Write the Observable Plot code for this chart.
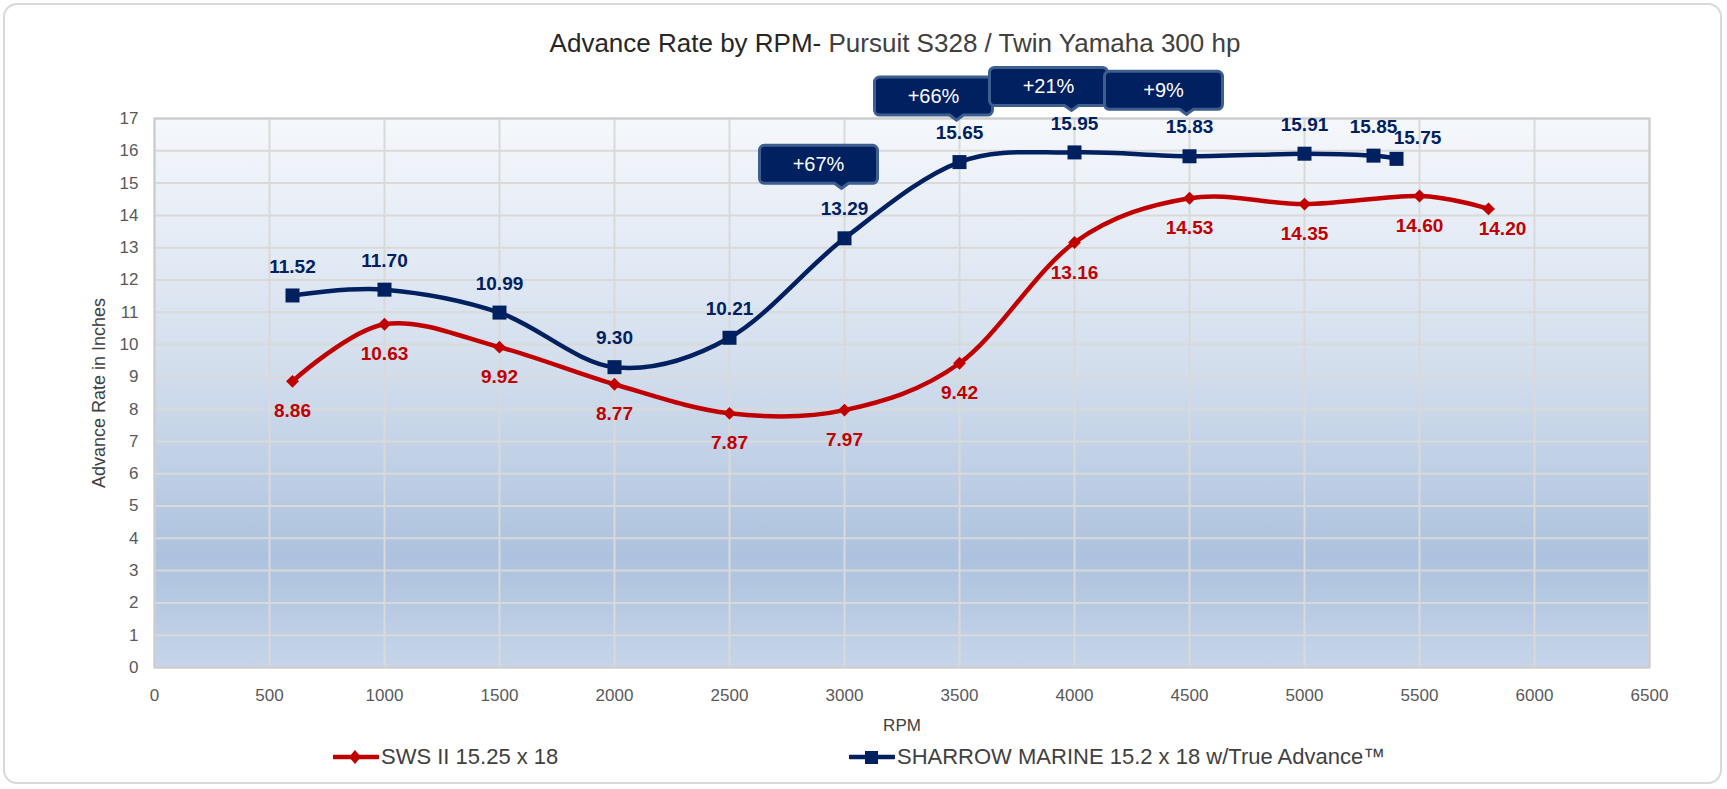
<!DOCTYPE html>
<html>
<head>
<meta charset="utf-8">
<script src="https://cdn.jsdelivr.net/npm/d3@7"></script>
<script src="https://cdn.jsdelivr.net/npm/@observablehq/plot@0.6"></script>
<style>
  body { margin: 0; background: #fff; }
  #wrap { position: relative; width: 1727px; height: 789px; overflow: hidden; font-family: "Liberation Sans", Arial, sans-serif; }
  #border { position: absolute; left: 3px; top: 3px; width: 1719px; height: 781px; border: 2px solid #d9d9d9; border-radius: 14px; box-sizing: border-box; }
  #title { position: absolute; left: 895px; top: 27px; transform: translateX(-50%); white-space: nowrap; font-size: 26px; line-height: 32px; color: #404040; }
  #title .a { color: #262626; }
  #chart { position: absolute; left: 0; top: 0; }
  .leg { position: absolute; top: 744px; height: 26px; display: flex; align-items: center; font-size: 22px; color: #404040; white-space: nowrap; }
  .leg svg { display: block; margin-right: 2px; }
</style>
</head>
<body>
<div id="wrap">
  <div id="border"></div>
  <div id="chart"></div>
  <div id="title"><span class="a">Advance Rate by RPM-</span> Pursuit S328 / Twin Yamaha 300 hp</div>
  <div class="leg" id="leg1" style="left:333px"></div>
  <div class="leg" id="leg2" style="left:849px"></div>
</div>
<script>
// ---- data ----
const rpmSWS = [600, 1000, 1500, 2000, 2500, 3000, 3500, 4000, 4500, 5000, 5500, 5800];
const advSWS = [8.86, 10.63, 9.92, 8.77, 7.87, 7.97, 9.42, 13.16, 14.53, 14.35, 14.60, 14.20];
const rpmSharrow = [600, 1000, 1500, 2000, 2500, 3000, 3500, 4000, 4500, 5000, 5300, 5400];
const advSharrow = [11.52, 11.70, 10.99, 9.30, 10.21, 13.29, 15.65, 15.95, 15.83, 15.91, 15.85, 15.75];
const calloutRpm = [3000, 3500, 4000, 4500];
const calloutText = ["+67%", "+66%", "+21%", "+9%"];
const xTicks = [0, 500, 1000, 1500, 2000, 2500, 3000, 3500, 4000, 4500, 5000, 5500, 6000, 6500];
const yTicks = [0, 1, 2, 3, 4, 5, 6, 7, 8, 9, 10, 11, 12, 13, 14, 15, 16, 17];
const seriesNames = ["SWS II 15.25 x 18", "SHARROW MARINE 15.2 x 18 w/True Advance™"];

const RED = "#c00000", NAVY = "#002060";

const sws = rpmSWS.map((r, i) => ({rpm: r, v: advSWS[i], last: i === rpmSWS.length - 1}));
const sharrow = rpmSharrow.map((r, i) => ({rpm: r, v: advSharrow[i], last: i === rpmSharrow.length - 1}));
const callouts = calloutRpm.map((r, i) => ({rpm: r, v: advSharrow[rpmSharrow.indexOf(r)], text: calloutText[i], first: i === 0}));

// callout bubble symbol: anchored at the data point, tip above it
function calloutSymbol(off) {
  return {
    draw(ctx) {
      const L = -85, R = 33, tx = -3, tip = -off, B = tip - 5, T = B - 38, r = 5, pw = 7;
      ctx.moveTo(L + r, T);
      ctx.lineTo(R - r, T);
      ctx.arcTo(R, T, R, T + r, r);
      ctx.lineTo(R, B - r);
      ctx.arcTo(R, B, R - r, B, r);
      ctx.lineTo(tx + pw, B);
      ctx.lineTo(tx, tip);
      ctx.lineTo(tx - pw, B);
      ctx.lineTo(L + r, B);
      ctx.arcTo(L, B, L, B - r, r);
      ctx.lineTo(L, T + r);
      ctx.arcTo(L, T, L + r, T, r);
      ctx.closePath();
    }
  };
}

const labelFont = {fontFamily: "Liberation Sans", fontWeight: "bold", fontSize: 19};

const svg = Plot.plot({
  width: 1727,
  height: 789,
  marginLeft: 154,
  marginRight: 78,
  marginTop: 118,
  marginBottom: 122,
  style: {fontFamily: "Liberation Sans, Arial, sans-serif", background: "transparent", overflow: "visible"},
  x: {domain: [0, 6500]},
  y: {domain: [0, 17]},
  marks: [
    Plot.frame({fill: "url(#plotBg)", stroke: "none"}),
    Plot.gridX({ticks: xTicks, stroke: "#d9d9d9", strokeOpacity: 1, strokeWidth: 2}),
    Plot.gridY({ticks: yTicks, stroke: "#d9d9d9", strokeOpacity: 1, strokeWidth: 2}),
    Plot.frame({stroke: "#cccccc", strokeWidth: 2}),
    Plot.axisX({ticks: xTicks, tickFormat: d => String(d), tickSize: 0, tickPadding: 21, fontSize: 17, color: "#595959", label: null}),
    Plot.axisY({ticks: yTicks, tickFormat: d => String(d), tickSize: 0, tickPadding: 16, fontSize: 17, color: "#595959", label: null}),
    Plot.text(["RPM"], {frameAnchor: "bottom", dy: 63, fontSize: 17, fill: "#404040"}),
    Plot.text(["Advance Rate in Inches"], {frameAnchor: "left", textAnchor: "middle", dx: -55, rotate: -90, fontSize: 18, fill: "#404040"}),
    // SWS II
    Plot.line(sws, {x: "rpm", y: "v", stroke: RED, strokeWidth: 4.5, curve: "cardinal"}),
    Plot.dot(sws, {x: "rpm", y: "v", symbol: "diamond2", r: 5.8, fill: RED}),
    Plot.text(sws.filter(d => !d.last), {x: "rpm", y: "v", text: d => d.v.toFixed(2), dy: 30, fill: RED, ...labelFont}),
    Plot.text(sws.filter(d => d.last), {x: "rpm", y: "v", text: d => d.v.toFixed(2), dy: 20, dx: 14, fill: RED, ...labelFont}),
    // Sharrow
    Plot.line(sharrow, {x: "rpm", y: "v", stroke: NAVY, strokeWidth: 4.5, curve: "cardinal"}),
    Plot.dot(sharrow, {x: "rpm", y: "v", symbol: "square", r: 7.9, fill: NAVY}),
    Plot.text(sharrow.filter(d => !d.last), {x: "rpm", y: "v", text: d => d.v.toFixed(2), dy: -29, fill: NAVY, ...labelFont}),
    Plot.text(sharrow.filter(d => d.last), {x: "rpm", y: "v", text: d => d.v.toFixed(2), dy: -21, dx: 21, fill: NAVY, ...labelFont}),
    // callouts
    Plot.dot(callouts.filter(d => d.first), {x: "rpm", y: "v", symbol: calloutSymbol(50), fill: NAVY, stroke: "#3d5f8f", strokeWidth: 3}),
    Plot.dot(callouts.filter(d => !d.first), {x: "rpm", y: "v", symbol: calloutSymbol(42), fill: NAVY, stroke: "#3d5f8f", strokeWidth: 3}),
    Plot.text(callouts.filter(d => d.first), {x: "rpm", y: "v", text: "text", dx: -26, dy: -74, fill: "white", fontSize: 20}),
    Plot.text(callouts.filter(d => !d.first), {x: "rpm", y: "v", text: "text", dx: -26, dy: -66, fill: "white", fontSize: 20})
  ]
});

// gradient background definition
const defs = d3.select(svg).insert("defs", ":first-child");
const grad = defs.append("linearGradient").attr("id", "plotBg").attr("x1", 0).attr("y1", 0).attr("x2", 0).attr("y2", 1);
[[0, "#f5f8fc"], [0.45, "#d3deed"], [0.8, "#adc2de"], [1, "#c6d5e9"]].forEach(([o, c]) =>
  grad.append("stop").attr("offset", o).attr("stop-color", c));

document.getElementById("chart").appendChild(svg);

// legend
function legendItem(el, color, shape, name) {
  const s = d3.select(el).append("svg").attr("width", 46).attr("height", 20);
  s.append("line").attr("x1", 1).attr("x2", 45).attr("y1", 10).attr("y2", 10).attr("stroke", color).attr("stroke-width", 4.5).attr("stroke-linecap", "round");
  if (shape === "diamond") s.append("path").attr("d", "M22,3L28,10L22,17L16,10Z").attr("fill", color);
  else s.append("rect").attr("x", 16).attr("y", 4).attr("width", 13).attr("height", 13).attr("fill", color);
  d3.select(el).append("span").text(name);
}
legendItem(document.getElementById("leg1"), RED, "diamond", seriesNames[0]);
legendItem(document.getElementById("leg2"), NAVY, "square", seriesNames[1]);
</script>
</body>
</html>
